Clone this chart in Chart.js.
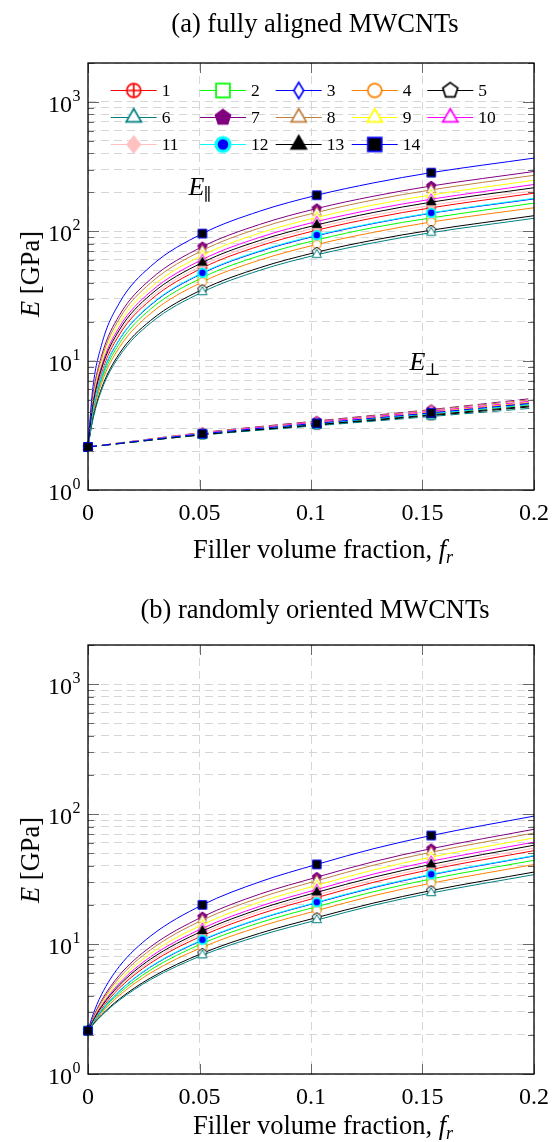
<!DOCTYPE html>
<html>
<head>
<meta charset="utf-8">
<script src="https://cdn.jsdelivr.net/npm/chart.js@4.4.1/dist/chart.umd.min.js"></script>
<style>
html,body{margin:0;padding:0;background:#fff;}
body{width:558px;height:1142px;position:relative;overflow:hidden;font-family:"Liberation Serif","Times New Roman",serif;color:#000;}
canvas{position:absolute;left:0;}
.t{position:absolute;left:88px;width:454px;text-align:center;font-size:26.5px;line-height:26px;white-space:nowrap;}
.yl{position:absolute;font-size:26.5px;line-height:26px;white-space:nowrap;transform:translate(-50%,-50%) rotate(-90deg);}
.t i,.yl i{font-style:italic;}
.t sub{font-size:18px;vertical-align:-5px;line-height:0;}
</style>
</head>
<body>
<canvas id="c1" width="558" height="571" style="top:0px"></canvas>
<canvas id="c2" width="558" height="562" style="top:580px"></canvas>
<div class="t" style="top:10px">(a) fully aligned MWCNTs</div>
<div class="t" style="top:536px;left:96px">Filler volume fraction, <i>f<sub>r</sub></i></div>
<div class="yl" style="left:30px;top:274px"><i>E</i> [GPa]</div>
<div class="t" style="top:596px">(b) randomly oriented MWCNTs</div>
<div class="t" style="top:1112px;left:96px">Filler volume fraction, <i>f<sub>r</sub></i></div>
<div class="yl" style="left:30px;top:860px"><i>E</i> [GPa]</div>
<script>
// ---------- data ----------
const volumeFraction = [0, 0.002, 0.006, 0.014, 0.028, 0.0513, 0.077, 0.1026, 0.1282, 0.1539, 0.2];
const perpFraction = [0, 0.0513, 0.1026, 0.1539, 0.2];
const markedFractions = [0, 0.0513, 0.1026, 0.1539];
const seriesLabels = ['1','2','3','4','5','6','7','8','9','10','11','12','13','14'];
const xTickValues = [0, 0.05, 0.1, 0.15, 0.2];
const xTickLabels = ['0', '0.05', '0.1', '0.15', '0.2'];
const yTickValues = [1,2,3,4,5,6,7,8,9,10,20,30,40,50,60,70,80,90,100,200,300,400,500,600,700,800,900,1000,2000];
const yMajorValues = [1, 10, 100, 1000];
const yMajorExponents = ['0', '1', '2', '3'];

// (a) fully aligned, E parallel (solid)
const alignedParallel = [
  [2.15, 4.10, 7.99, 15.8, 29.4, 52.1, 77.1, 102, 127, 152, 197],
  [2.15, 3.78, 7.03, 13.5, 25.0, 43.9, 64.8, 85.7, 107, 127, 165],
  [2.15, 3.91, 7.43, 14.5, 26.8, 47.3, 69.9, 92.4, 115, 138, 178],
  [2.15, 3.65, 6.65, 12.6, 23.1, 40.6, 59.9, 79.1, 98.3, 118, 152],
  [2.15, 3.45, 6.06, 11.3, 20.4, 35.5, 52.3, 69.0, 85.6, 102, 132],
  [2.15, 3.39, 5.87, 10.8, 19.5, 33.9, 49.9, 65.8, 81.6, 97.6, 126],
  [2.15, 5.03, 10.8, 22.3, 42.5, 76.0, 113, 150, 187, 224, 290],
  [2.15, 4.84, 10.2, 21.0, 39.8, 71.1, 106, 140, 175, 209, 271],
  [2.15, 4.61, 9.53, 19.4, 36.6, 65.2, 96.9, 128, 160, 191, 248],
  [2.15, 4.43, 8.98, 18.1, 34.0, 60.5, 89.8, 119, 148, 177, 230],
  [2.15, 4.19, 8.28, 16.4, 30.7, 54.5, 80.8, 107, 133, 159, 206],
  [2.15, 3.93, 7.49, 14.6, 27.1, 47.8, 70.7, 93.5, 116, 139, 180],
  [2.15, 4.30, 8.60, 17.2, 32.3, 57.3, 84.9, 112, 140, 168, 217],
  [2.15, 5.81, 13.1, 27.8, 53.4, 96.0, 143, 190, 237, 284, 368]
];
// (a) fully aligned, E perpendicular (dashed)
const alignedPerp = [
  [2.15, 2.73, 3.29, 3.97, 4.74],
  [2.15, 2.70, 3.24, 3.88, 4.59],
  [2.15, 2.71, 3.27, 3.92, 4.66],
  [2.15, 2.73, 3.31, 4.00, 4.78],
  [2.15, 2.67, 3.17, 3.76, 4.42],
  [2.15, 2.66, 3.14, 3.70, 4.30],
  [2.15, 2.78, 3.42, 4.19, 5.12],
  [2.15, 2.77, 3.39, 4.15, 5.02],
  [2.15, 2.75, 3.34, 4.05, 4.85],
  [2.15, 2.75, 3.35, 4.07, 4.89],
  [2.15, 2.72, 3.28, 3.95, 4.70],
  [2.15, 2.71, 3.25, 3.90, 4.63],
  [2.15, 2.68, 3.20, 3.81, 4.49],
  [2.15, 2.72, 3.28, 3.95, 4.70]
];
// (b) randomly oriented
const randomOriented = [
  [2.15, 2.49, 3.17, 4.57, 7.12, 11.6, 17.0, 22.8, 29.9, 37.5, 52.3],
  [2.15, 2.43, 3.01, 4.18, 6.31, 10.1, 14.6, 19.4, 25.3, 31.7, 44.1],
  [2.15, 2.46, 3.07, 4.34, 6.65, 10.7, 15.6, 20.8, 27.2, 34.1, 47.6],
  [2.15, 2.41, 2.94, 4.02, 5.98, 9.46, 13.6, 18.1, 23.6, 29.4, 40.9],
  [2.15, 2.38, 2.84, 3.77, 5.48, 8.50, 12.1, 16.0, 20.7, 25.8, 35.8],
  [2.15, 2.37, 2.80, 3.69, 5.32, 8.20, 11.6, 15.3, 19.9, 24.7, 34.2],
  [2.15, 2.65, 3.66, 5.74, 9.51, 16.2, 24.2, 32.7, 43.1, 54.2, 76.4],
  [2.15, 2.62, 3.56, 5.50, 9.02, 15.3, 22.7, 30.7, 40.5, 50.9, 71.5],
  [2.15, 2.58, 3.44, 5.21, 8.43, 14.1, 21.0, 28.3, 37.2, 46.7, 65.6],
  [2.15, 2.55, 3.35, 4.98, 7.96, 13.2, 19.5, 26.3, 34.6, 43.4, 60.8],
  [2.15, 2.51, 3.22, 4.69, 7.37, 12.1, 17.8, 23.8, 31.2, 39.1, 54.8],
  [2.15, 2.46, 3.09, 4.36, 6.69, 10.8, 15.7, 21.0, 27.5, 34.4, 48.0],
  [2.15, 2.52, 3.28, 4.82, 7.64, 12.6, 18.6, 25.0, 32.7, 41.0, 57.6],
  [2.15, 2.79, 4.07, 6.71, 11.5, 20.0, 30.1, 41.0, 54.2, 68.4, 96.5]
];

// ---------- styles ----------
const seriesColors = ['#ff0000','#00ff00','#0000ff','#ff8000','#000000','#008080','#800080','#bf8040','#ffff00','#ff00ff','#ffc0c0','#00ffff','#000000','#0000ff'];
const markerShapes = ['oplus','square','diamond','circle','pentagon','triangle','pentagon','triangle','triangle','triangle','diamond','circle','triangle','square'];
const markerFills  = ['#ffffff','#ffffff','#ffffff','#ffffff','#ffffff','#ffffff','#800080','#ffffff','#ffffff','#ffffff','#ffc0c0','#0000ff','#000000','#000000'];
const SERIF = '"Liberation Serif", "Times New Roman", serif';

function makeMarker(i, r, lw) {
  const shape = markerShapes[i];
  const w = (i === 11) ? lw * 1.9 : lw;
  const size = 2 * Math.ceil(r * 1.4 + w + 2);
  const c = document.createElement('canvas');
  c.width = size; c.height = size;
  const g = c.getContext('2d');
  const cx = size / 2, cy = size / 2;
  g.lineWidth = w; g.strokeStyle = seriesColors[i]; g.fillStyle = markerFills[i];
  g.lineJoin = 'miter';
  g.beginPath();
  if (shape === 'circle' || shape === 'oplus') {
    g.arc(cx, cy, r * 0.95, 0, 2 * Math.PI);
  } else if (shape === 'square') {
    g.rect(cx - r * 0.95, cy - r * 0.95, 1.9 * r, 1.9 * r);
  } else if (shape === 'diamond') {
    const h = r * 1.12, ww = h * (i === 10 ? 0.8 : 0.6);
    g.moveTo(cx, cy - h); g.lineTo(cx + ww, cy); g.lineTo(cx, cy + h); g.lineTo(cx - ww, cy); g.closePath();
  } else {
    const n = shape === 'triangle' ? 3 : 5;
    const R = shape === 'triangle' ? r * 1.2 : r * 1.08;
    for (let k = 0; k < n; k++) {
      const a = -Math.PI / 2 + k * 2 * Math.PI / n;
      const px = cx + R * Math.cos(a), py = cy + R * Math.sin(a);
      if (k === 0) g.moveTo(px, py); else g.lineTo(px, py);
    }
    g.closePath();
  }
  g.fill(); g.stroke();
  if (shape === 'oplus') {
    g.beginPath();
    g.moveTo(cx - r * 0.95, cy); g.lineTo(cx + r * 0.95, cy);
    g.moveTo(cx, cy - r * 0.95); g.lineTo(cx, cy + r * 0.95);
    g.stroke();
  }
  return c;
}
const plotMarkers = seriesLabels.map((_, i) => makeMarker(i, 4.5, 1));
const legendMarkers = seriesLabels.map((_, i) => makeMarker(i, 7.3, 1.7));

function lineDataset(i, xs, ys, dashed, order) {
  return {
    label: seriesLabels[i] + (dashed ? ' perp' : ''),
    data: xs.map((f, j) => ({ x: f, y: ys[j] })),
    borderColor: seriesColors[i],
    borderWidth: 1,
    borderDash: dashed ? [9, 5] : [],
    cubicInterpolationMode: 'monotone',
    fill: false,
    clip: false,
    order: order,
    pointStyle: plotMarkers[i],
    pointRadius: ctx => (ctx.raw && markedFractions.includes(ctx.raw.x)) ? 4.5 : 0,
    pointHoverRadius: 0
  };
}

const frameTicksPlugin = {
  id: 'frameTicks',
  afterDatasetsDraw(chart) {
    const { ctx, chartArea: a, scales: { x, y } } = chart;
    ctx.save();
    ctx.strokeStyle = '#6a6a6a';
    ctx.lineWidth = 1;
    ctx.setLineDash([]);
    yTickValues.forEach(v => {
      const py = Math.round(y.getPixelForValue(v)) + 0.5;
      const len = yMajorValues.includes(v) ? 11 : 6;
      ctx.beginPath();
      ctx.moveTo(a.left, py); ctx.lineTo(a.left + len, py);
      ctx.moveTo(a.right, py); ctx.lineTo(a.right - len, py);
      ctx.stroke();
    });
    xTickValues.forEach(v => {
      const px = Math.round(x.getPixelForValue(v)) + 0.5;
      ctx.beginPath();
      ctx.moveTo(px, a.bottom); ctx.lineTo(px, a.bottom - 10);
      ctx.moveTo(px, a.top); ctx.lineTo(px, a.top + 10);
      ctx.stroke();
    });
    ctx.strokeStyle = '#000';
    ctx.lineWidth = 1.3;
    ctx.strokeRect(a.left, a.top, a.right - a.left, a.bottom - a.top);
    // y tick labels 10^n
    ctx.fillStyle = '#000';
    ctx.textBaseline = 'alphabetic';
    yMajorValues.forEach((v, k) => {
      const py = y.getPixelForValue(v);
      ctx.font = '24px ' + SERIF;
      ctx.textAlign = 'right';
      ctx.fillText('10', a.left - 16, py + 10);
      ctx.font = '16px ' + SERIF;
      ctx.textAlign = 'left';
      ctx.fillText(yMajorExponents[k], a.left - 15.5, py - 1);
    });
    ctx.restore();
  }
};

const annotationLegendPlugin = {
  id: 'annLegend',
  afterDraw(chart) {
    const { ctx, chartArea: a, scales: { x, y } } = chart;
    ctx.save();
    ctx.fillStyle = '#000';
    ctx.textBaseline = 'alphabetic';
    ctx.textAlign = 'left';
    // E parallel
    let px = x.getPixelForValue(0.0451), py = y.getPixelForValue(190);
    ctx.font = 'italic 26px ' + SERIF;
    ctx.fillText('E', px, py);
    let w = ctx.measureText('E').width;
    ctx.font = '17px "DejaVu Serif", ' + SERIF;
    ctx.fillText('\u2225', px + w - 1, py + 5);
    // E perpendicular
    px = x.getPixelForValue(0.1442); py = y.getPixelForValue(8.4);
    ctx.font = 'italic 26px ' + SERIF;
    ctx.fillText('E', px, py);
    w = ctx.measureText('E').width;
    ctx.font = '17px "DejaVu Serif", ' + SERIF;
    ctx.fillText('\u22A5', px + w - 1, py + 5);
    // legend
    const colOffsets = [22.7, 112, 187.7, 263.7, 339.3];
    const rowOffsets = [27, 54, 81];
    ctx.font = '17.5px ' + SERIF;
    ctx.textBaseline = 'middle';
    seriesLabels.forEach((lab, i) => {
      const lx = a.left + colOffsets[i % 5];
      const ly = a.top + rowOffsets[Math.floor(i / 5)];
      ctx.strokeStyle = seriesColors[i];
      ctx.lineWidth = 1;
      ctx.beginPath();
      ctx.moveTo(lx, ly + 0.5); ctx.lineTo(lx + 46, ly + 0.5);
      ctx.stroke();
      const m = legendMarkers[i];
      ctx.drawImage(m, lx + 23 - m.width / 2, ly + 0.5 - m.height / 2);
      ctx.fillStyle = '#000';
      ctx.fillText(lab, lx + 51, ly + 1);
    });
    ctx.restore();
  }
};

function scalesConfig(xHeight) {
  return {
    x: {
      type: 'linear', min: 0, max: 0.2,
      afterBuildTicks: s => { s.ticks = xTickValues.map(v => ({ value: v })); },
      afterFit: s => { s.height = xHeight; },
      ticks: {
        callback: (v, k) => xTickLabels[k],
        font: { family: SERIF, size: 24 }, color: '#000',
        padding: 9, autoSkip: false, maxRotation: 0, minRotation: 0
      },
      grid: { color: '#d6d6d6', lineWidth: 1, drawTicks: false },
      border: { display: false, dash: [8, 5] }
    },
    y: {
      type: 'logarithmic', min: 1, max: 2000,
      afterBuildTicks: s => { s.ticks = yTickValues.map(v => ({ value: v })); },
      afterFit: s => { s.width = 88; },
      ticks: { display: false },
      grid: { color: '#d6d6d6', lineWidth: 1, drawTicks: false },
      border: { display: false, dash: [8, 5] }
    }
  };
}

const commonOptions = {
  responsive: false,
  animation: false,
  events: [],
  plugins: { legend: { display: false }, tooltip: { enabled: false }, title: { display: false } }
};

// chart (a)
const dsA = [];
let ord = 1000;
seriesLabels.forEach((_, i) => {
  dsA.push(lineDataset(i, volumeFraction, alignedParallel[i], false, ord--));
  dsA.push(lineDataset(i, perpFraction, alignedPerp[i], true, ord--));
});
new Chart(document.getElementById('c1'), {
  type: 'line',
  data: { datasets: dsA },
  options: Object.assign({}, commonOptions, {
    layout: { padding: { left: 0, right: 16, top: 63, bottom: 0 } },
    scales: scalesConfig(81)
  }),
  plugins: [frameTicksPlugin, annotationLegendPlugin]
});

// chart (b)
const dsB = [];
ord = 1000;
seriesLabels.forEach((_, i) => {
  dsB.push(lineDataset(i, volumeFraction, randomOriented[i], false, ord--));
});
new Chart(document.getElementById('c2'), {
  type: 'line',
  data: { datasets: dsB },
  options: Object.assign({}, commonOptions, {
    layout: { padding: { left: 0, right: 16, top: 65, bottom: 0 } },
    scales: scalesConfig(68)
  }),
  plugins: [frameTicksPlugin]
});
</script>
</body>
</html>
